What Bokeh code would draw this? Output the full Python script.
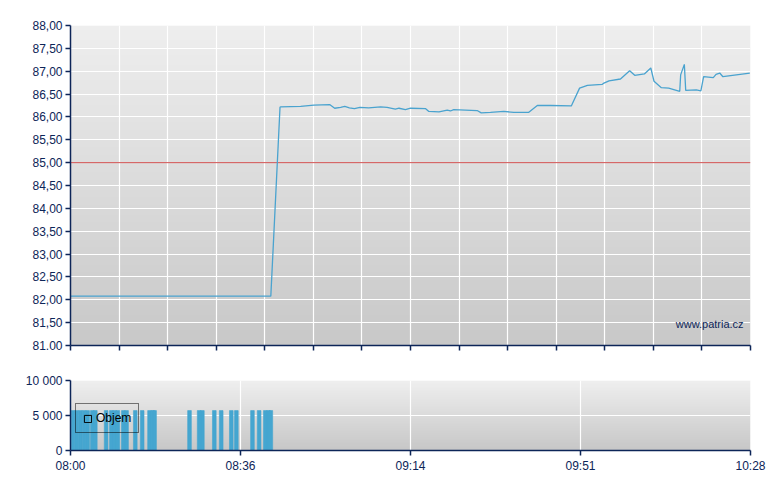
import numpy as np
from bokeh.plotting import figure
from bokeh.layouts import column
from bokeh.models import FixedTicker, Range1d, Label, Legend, LegendItem
from bokeh.embed import file_html
from bokeh.resources import INLINE

# ---- data (minutes after 08:00) ----
price_minutes = [0.0, 43.6, 45.6, 45.7, 50.1, 52.95, 56.4, 57.5, 58.8, 59.7, 60.7, 61.8, 63.0,
                 64.9, 67.5, 68.9, 70.7, 71.5, 72.9, 74.0, 77.3, 78.0, 80.2, 82.0, 82.7, 83.4,
                 88.5, 89.4, 91.4, 94.3, 96.5, 99.75, 101.6, 104.5, 109.0, 110.8, 112.5, 115.7,
                 116.1, 117.2, 119.7, 121.7, 122.8, 124.9, 126.3, 127.0, 128.6, 130.2, 132.6,
                 132.8, 133.6, 133.9, 136.2, 137.2, 137.8, 139.9, 140.5, 141.3, 142.0, 147.85]
price_values = [82.08, 82.08, 86.21, 86.22, 86.23, 86.26, 86.27, 86.19, 86.21, 86.23, 86.20, 86.18, 86.21,
                86.20, 86.22, 86.21, 86.17, 86.19, 86.16, 86.19, 86.18, 86.12, 86.11, 86.15, 86.13, 86.16,
                86.14, 86.09, 86.10, 86.12, 86.10, 86.10, 86.25, 86.25, 86.24, 86.63, 86.69, 86.71,
                86.74, 86.79, 86.83, 87.01, 86.91, 86.94, 87.07, 86.78, 86.64, 86.63, 86.56,
                86.92, 87.15, 86.58, 86.59, 86.57, 86.88, 86.86, 86.93, 86.96, 86.88, 86.96]

vol_minutes = [0.55, 1.35, 2.15, 2.95, 3.73, 4.75, 5.4, 7.75, 8.9, 9.6, 10.3, 11.5, 12.2, 14.1, 15.6,
               17.2, 17.9, 18.3, 25.9, 28.0, 28.7, 31.3, 32.8, 35.0, 36.1, 39.6, 41.05, 42.4, 43.1, 43.6]
vol_values = [5700] * len(vol_minutes)

reference_level = 85.0

price_ticks = [81.0, 81.5, 82.0, 82.5, 83.0, 83.5, 84.0, 84.5, 85.0, 85.5, 86.0, 86.5, 87.0, 87.5, 88.0]
price_tick_labels = ["81.00", "81,50", "82,00", "82,50", "83,00", "83,50", "84,00", "84,50",
                     "85,00", "85,50", "86,00", "86,50", "87,00", "87,50", "88,00"]
time_ticks = [0, 37, 74, 111, 148]
time_tick_labels = ["08:00", "08:36", "09:14", "09:51", "10:28"]
vol_ticks = [0, 5000, 10000]
vol_tick_labels = ["0", "5 000", "10 000"]

# ---- styles ----
NAVY = "#0d2558"
LINE = "#4aa3cf"
BAR = "#45a6d0"
FONT = "Liberation Sans"
X0, X1 = 0, 148


def gradient(p, y0, y1, top=(239, 239, 239), bottom=(199, 199, 199), n=128):
    t = np.linspace(0, 1, n)[:, None]
    rgb = np.array(bottom)[None, :] * (1 - t) + np.array(top)[None, :] * t
    img = np.zeros((n, 2), dtype=np.uint32)
    view = img.view(dtype=np.uint8).reshape((n, 2, 4))
    for c in range(3):
        view[:, :, c] = rgb[:, c].round().astype(np.uint8)[:, None]
    view[:, :, 3] = 255
    p.image_rgba(image=[img], x=X0, y=y0, dw=X1 - X0, dh=y1 - y0, level="image")


def style(p):
    p.outline_line_color = None
    p.background_fill_color = None
    p.border_fill_color = "white"
    for ax in (p.xaxis[0], p.yaxis[0]):
        ax.axis_line_color = NAVY
        ax.axis_line_width = 1.5
        ax.major_tick_line_color = NAVY
        ax.major_tick_line_width = 1.5
        ax.major_tick_out = 5
        ax.major_tick_in = 0
        ax.minor_tick_line_color = None
        ax.major_label_text_color = NAVY
        ax.major_label_text_font = FONT
        ax.major_label_text_font_size = "12px"
        ax.major_label_standoff = 3
    p.grid.grid_line_color = "white"
    p.grid.grid_line_width = 1.2


# ---- main price chart ----
main_x_ticks = [X1 * i / 14 for i in range(15)]
p = figure(frame_width=680, frame_height=320, x_range=Range1d(X0, X1), y_range=Range1d(81, 88),
           output_backend="svg", toolbar_location=None,
           min_border_left=70, min_border_right=30, min_border_top=25, min_border_bottom=12)
style(p)
gradient(p, 81, 88, top=(238, 238, 238), bottom=(200, 200, 200))
p.xaxis.ticker = FixedTicker(ticks=main_x_ticks)
p.xaxis.major_label_overrides = {t: "" for t in main_x_ticks}
p.xaxis.major_label_standoff = 0
p.yaxis.ticker = FixedTicker(ticks=price_ticks)
p.yaxis.major_label_overrides = dict(zip(price_ticks, price_tick_labels))
p.line(x=[X0, X1], y=[reference_level, reference_level], line_color="#d05050", line_width=1)
p.line(x=price_minutes, y=price_values, line_color=LINE, line_width=1.3)
p.add_layout(Label(x=146.5, y=81.48, text="www.patria.cz", text_align="right", text_baseline="middle",
                   text_font=FONT, text_font_size="11px", text_color=NAVY))

# ---- volume chart ----
p2 = figure(frame_width=680, frame_height=70, x_range=Range1d(X0, X1), y_range=Range1d(0, 10000),
            output_backend="svg", toolbar_location=None,
            min_border_left=70, min_border_right=30, min_border_top=23, min_border_bottom=28)
style(p2)
gradient(p2, 0, 10000, top=(239, 239, 239), bottom=(199, 199, 199))
p2.xaxis.ticker = FixedTicker(ticks=time_ticks)
p2.xaxis.major_label_overrides = dict(zip(time_ticks, time_tick_labels))
p2.yaxis.ticker = FixedTicker(ticks=vol_ticks)
p2.yaxis.major_label_overrides = dict(zip(vol_ticks, vol_tick_labels))
p2.vbar(x=vol_minutes, top=vol_values, bottom=0, width=0.8, fill_color=BAR,
        line_color=BAR, line_width=0.6)
# legend proxy (not drawn in the plot: NaN coordinates)
leg_r = p2.quad(left=[np.nan], right=[np.nan], top=[np.nan], bottom=[np.nan],
                fill_alpha=0, line_color="black", line_width=1)
legend = Legend(items=[LegendItem(label="Objem", renderers=[leg_r], index=0)], location=(5, 17),
                padding=7, margin=0, glyph_width=9, glyph_height=9, label_standoff=4,
                label_height=12, label_text_font=FONT, label_text_font_size="12px",
                label_text_color="black", border_line_color="black", border_line_width=1,
                background_fill_alpha=0)
p2.add_layout(legend)

layout = column(p, p2, spacing=0)
open("out.html", "w").write(file_html(layout, INLINE))
